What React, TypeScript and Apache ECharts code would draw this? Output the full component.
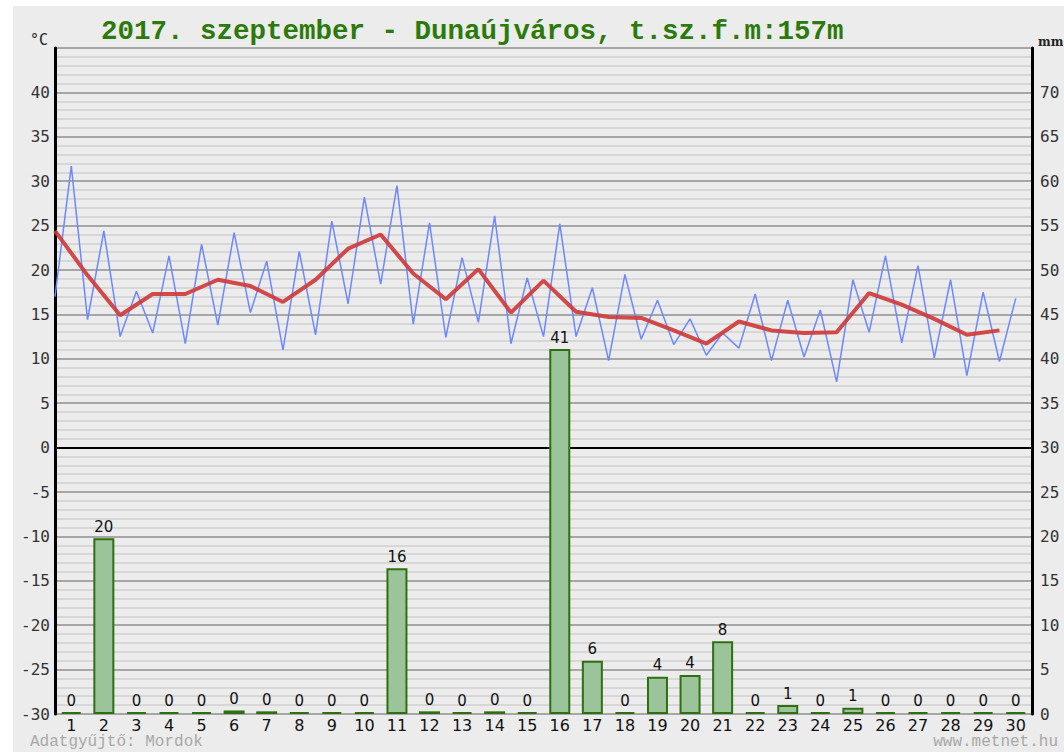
import React, { useEffect, useRef } from "react";
import * as echarts from "echarts";

const titleText = "2017. szeptember - Dunaújváros, t.sz.f.m:157m";
const days = ["1","2","3","4","5","6","7","8","9","10","11","12","13","14","15","16","17","18","19","20","21","22","23","24","25","26","27","28","29","30"];
// precipitation (mm) per day
const precip = [0, 19.8, 0, 0, 0, 0.4, 0.3, 0, 0, 0, 16.4, 0.3, 0, 0.3, 0, 41.1, 6.0, 0, 4.2, 4.4, 8.2, 0, 1.0, 0, 0.7, 0, 0, 0, 0, 0];
// half-daily temperatures (°C), two readings per day
const halfDayTemps = [
  17.0, 31.7, 14.4, 24.4, 12.5, 17.6, 12.9, 21.6, 11.7, 22.9,
  13.8, 24.2, 15.2, 21.0, 11.0, 22.1, 12.7, 25.5, 16.2, 28.2,
  18.4, 29.5, 13.9, 25.3, 12.4, 21.4, 14.1, 26.1, 11.7, 19.1,
  12.5, 25.2, 12.5, 18.0, 9.8, 19.5, 12.2, 16.6, 11.6, 14.5,
  10.4, 12.9, 11.2, 17.3, 9.8, 16.6, 10.2, 15.5, 7.4, 18.9,
  13.0, 21.6, 11.8, 20.5, 10.1, 18.9, 8.1, 17.5, 9.7, 16.8
];
// daily mean temperatures (°C)
const meanTemps = [
  24.4, 19.4, 14.9, 17.3, 17.3, 18.9, 18.2, 16.4, 18.9, 22.4,
  24.0, 19.6, 16.7, 20.1, 15.2, 18.8, 15.3, 14.7, 14.6, 13.2,
  11.7, 14.2, 13.2, 12.9, 13.0, 17.4, 16.1, 14.5, 12.7, 13.2
];

export default function App() {
  const ref = useRef<HTMLDivElement>(null);
  useEffect(() => {
    if (!ref.current) return;
    const chart = echarts.init(ref.current, null, { renderer: "svg" });
    const monoLabel = { fontFamily: "DejaVu Sans Mono", fontSize: 16, color: "#333" };
    chart.setOption({
      animation: false,
      backgroundColor: "transparent",
      title: {
        text: titleText,
        left: 96,
        top: 12,
        textStyle: { fontFamily: "Liberation Mono", fontWeight: "bold", fontSize: 27.5, color: "#2b7a0b" },
      },
      grid: { left: 55, right: 32, top: 48, bottom: 38 },
      xAxis: [
        {
          type: "category",
          data: days,
          boundaryGap: true,
          axisLine: { show: false },
          axisTick: { show: false },
          axisLabel: { fontFamily: "DejaVu Sans", fontSize: 16, color: "#111", margin: 3 },
        },
        { type: "value", min: 0, max: 30, show: false },
      ],
      yAxis: [
        {
          type: "value",
          min: -30,
          max: 45,
          interval: 5,
          position: "left",
          axisLine: { show: true, onZero: false, lineStyle: { color: "#000", width: 3 } },
          axisTick: { show: false },
          axisLabel: {
            ...monoLabel,
            margin: 5,
            padding: [0, 0, 8, 0],
            formatter: (v: number) => (v === 45 ? "" : String(v)),
          },
          splitLine: { show: true, lineStyle: { color: "#a6a6a6", width: 2 } },
          minorTick: { show: false, splitNumber: 5 },
          minorSplitLine: { show: true, lineStyle: { color: "#d7d7d7", width: 2 } },
        },
        {
          type: "value",
          min: 0,
          max: 75,
          interval: 5,
          position: "right",
          axisLine: { show: true, onZero: false, lineStyle: { color: "#000", width: 3 } },
          axisTick: { show: false },
          axisLabel: {
            ...monoLabel,
            margin: 8,
            padding: [0, 0, 8, 0],
            formatter: (v: number) => (v === 75 ? "" : String(v)),
          },
          splitLine: { show: false },
        },
      ],
      graphic: [
        { type: "text", left: 30, top: 32, style: { text: "°C", fontFamily: "DejaVu Sans Mono", fontSize: 15, fill: "#222" } },
        { type: "text", left: 1038, top: 36, style: { text: "mm", fontFamily: "DejaVu Serif", fontSize: 12, fontWeight: "bold", fill: "#222" } },
        { type: "text", left: 30, top: 734, style: { text: "Adatgyűjtő: Mordok", fontFamily: "Liberation Mono", fontSize: 16, fill: "#a8a8a8" } },
        { type: "text", right: 6, top: 734, style: { text: "www.metnet.hu", fontFamily: "Liberation Mono", fontSize: 16, fill: "#a8a8a8" } },
      ],
      series: [
        {
          type: "line",
          name: "nulla",
          xAxisIndex: 1,
          yAxisIndex: 0,
          data: [],
          z: 1,
          markLine: {
            silent: true,
            z: 1,
            symbol: "none",
            label: { show: false },
            lineStyle: { color: "#000", width: 2, type: "solid" },
            data: [{ yAxis: 0 }],
          },
        },
        {
          type: "bar",
          name: "csapadék",
          xAxisIndex: 0,
          yAxisIndex: 1,
          data: precip,
          barWidth: 21,
          barMinHeight: 2,
          itemStyle: { color: "#9bc49b", borderColor: "#2f6f12", borderWidth: 2 },
          label: {
            show: true,
            position: "top",
            distance: 4,
            fontFamily: "DejaVu Sans",
            fontSize: 15,
            color: "#111",
            formatter: (p: any) => String(Math.round(p.value)),
          },
          z: 3,
        },
        {
          type: "line",
          name: "hőmérséklet",
          xAxisIndex: 1,
          yAxisIndex: 0,
          data: halfDayTemps.map((v, i) => [i * 0.5, v]),
          symbol: "none",
          lineStyle: { color: "#6d88ff", width: 1.5 },
          z: 4,
        },
        {
          type: "line",
          name: "napi átlag",
          xAxisIndex: 1,
          yAxisIndex: 0,
          data: meanTemps.map((v, i) => [i, v]),
          symbol: "none",
          lineStyle: { color: "#cf3b3b", width: 4, opacity: 0.92 },
          z: 5,
        },
      ],
    });
    return () => chart.dispose();
  }, []);
  return (
    <div style={{ position: "absolute", left: 0, top: 0, width: 1064, height: 752, background: "#fff" }}>
      <div style={{ position: "absolute", left: 13, top: 6, right: 0, bottom: 0, background: "#ececec" }} />
      <div ref={ref} style={{ position: "absolute", left: 0, top: 0, width: 1064, height: 752 }} />
    </div>
  );
}
